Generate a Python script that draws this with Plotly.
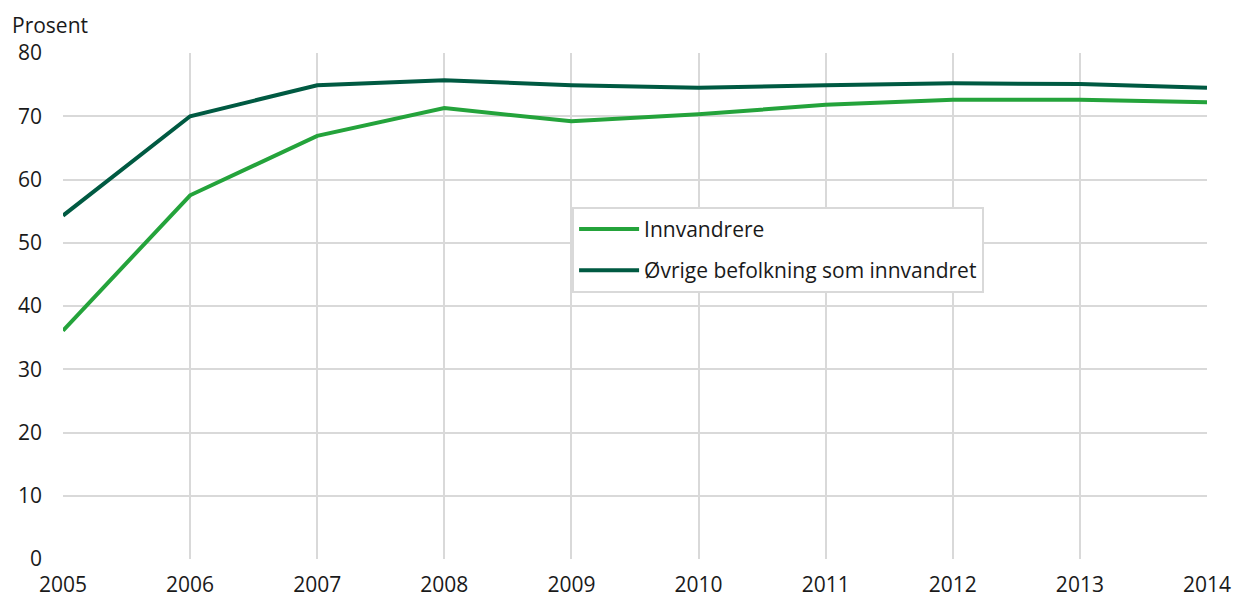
import plotly.graph_objects as go

years = [2005, 2006, 2007, 2008, 2009, 2010, 2011, 2012, 2013, 2014]
innvandrere = [36.1, 57.5, 66.9, 71.3, 69.2, 70.3, 71.8, 72.6, 72.6, 72.2]
ovrige = [54.3, 70.0, 74.9, 75.7, 74.9, 74.5, 74.9, 75.2, 75.1, 74.5]

fig = go.Figure()
fig.add_trace(go.Scatter(x=years, y=innvandrere, mode="lines", name="Innvandrere",
                         legendgroup="a",
                         line=dict(color="#24a33b", width=4)))
fig.add_trace(go.Scatter(x=years, y=ovrige, mode="lines", name="Øvrige befolkning som innvandret",
                         legendgroup="b",
                         line=dict(color="#005a42", width=4)))

fig.update_layout(
    width=1235, height=599,
    margin=dict(l=63, r=28, t=53, b=40),
    paper_bgcolor="white", plot_bgcolor="white",
    font=dict(family="Open Sans", size=21, color="#1a1a1a"),
    showlegend=True,
    legend=dict(x=0.445, y=0.696, xanchor="left", yanchor="top",
                bordercolor="#d9d9d9", borderwidth=2, bgcolor="white",
                font=dict(size=21), traceorder="grouped", tracegroupgap=11,
                itemwidth=60),
    xaxis=dict(range=[2005, 2014], tickvals=years, ticktext=[str(y) for y in years],
               showgrid=True, gridcolor="#d9d9d9", gridwidth=2, automargin=False,
               zeroline=False, showline=False, ticks="", ticklabelstandoff=11),
    yaxis=dict(range=[0, 80], dtick=10, showgrid=True, gridcolor="#d9d9d9", gridwidth=2,
               automargin=False,
               zeroline=False, showline=False, ticks="", ticklabelstandoff=20),
    annotations=[dict(text="Prosent", xref="paper", yref="paper", x=-0.0463, y=1.055,
                      xanchor="left", yanchor="middle", showarrow=False,
                      font=dict(size=21, family="Open Sans", color="#1a1a1a"))],
)

fig.write_html("out.html", config={"displayModeBar": False},
               post_script="document.body.style.margin='0';document.body.style.overflow='hidden';")
